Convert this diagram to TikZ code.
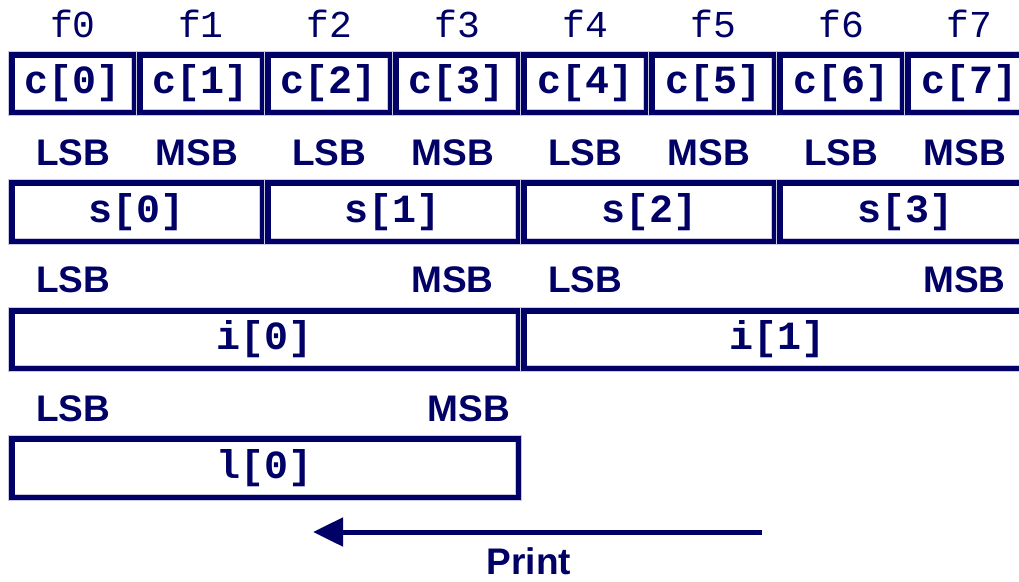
\documentclass[tikz,border=0pt]{standalone}
\usepackage{fontspec}
\usetikzlibrary{arrows.meta}
\newfontfamily\monof{Liberation Mono}
\newfontfamily\sansf{Liberation Sans}
\definecolor{navy}{RGB}{0,0,102}
\definecolor{edgegray}{RGB}{200,200,225}
\begin{document}
\begin{tikzpicture}[x=1pt,y=-1pt,
  cell/.style={draw=navy, line width=5.5pt, inner sep=0pt, outer sep=0pt,
    anchor=north west, text=navy,
    font=\monof\bfseries\fontsize{40}{40}\selectfont,
    preaction={draw=edgegray, line width=7pt}},
  flabel/.style={anchor=base, text=navy, inner sep=0pt, font=\monof\fontsize{38}{38}\selectfont},
  bitlabel/.style={anchor=base, text=navy, inner sep=0pt, font=\sansf\bfseries\fontsize{37}{37}\selectfont}]
\useasboundingbox (0,0) rectangle (1019,581);
\clip (0,0) rectangle (1019,581);
% char row
\foreach \k in {0,...,7}{
  \node[cell, minimum width=122.5pt, minimum height=57.5pt] (c\k) at ({9+128*\k+2.75}, 54.75) {c[\k]};
  \node[flabel] (f\k) at ({73+128*\k}, 37) {f\k};
}
% short row
\foreach \k in {0,...,3}{
  \node[cell, minimum width=250.5pt, minimum height=58.5pt] (s\k) at ({9+256*\k+2.75}, 182.75) {s[\k]};
  \node[bitlabel] (lsbA\k) at ({73+256*\k}, 165) {LSB};
  \node[bitlabel] (msbA\k) at ({197+256*\k}, 165) {MSB};
}
% int row
\foreach \k in {0,1}{
  \node[cell, minimum width=506.5pt, minimum height=57.5pt] (i\k) at ({9+512*\k+2.75}, 310.75) {i[\k]};
  \node[bitlabel] (lsbB\k) at ({73+512*\k}, 292) {LSB};
  \node[bitlabel] (msbB\k) at ({452.5+512*\k}, 292) {MSB};
}
% long row
\node[cell, minimum width=506.5pt, minimum height=58.5pt] (l0) at (11.75, 438.75) {l[0]};
\node[bitlabel] (lsbC) at (73, 421) {LSB};
\node[bitlabel] (msbC) at (469, 421) {MSB};
% print arrow
\coordinate (pstart) at (762,532);
\coordinate (pend) at (313,532);
\draw[navy, line width=5pt, -{Triangle[length=30pt,width=28pt]}] (pstart) -- (pend);
\node[bitlabel] (print) at (529,574) {Print};
\end{tikzpicture}
\end{document}
